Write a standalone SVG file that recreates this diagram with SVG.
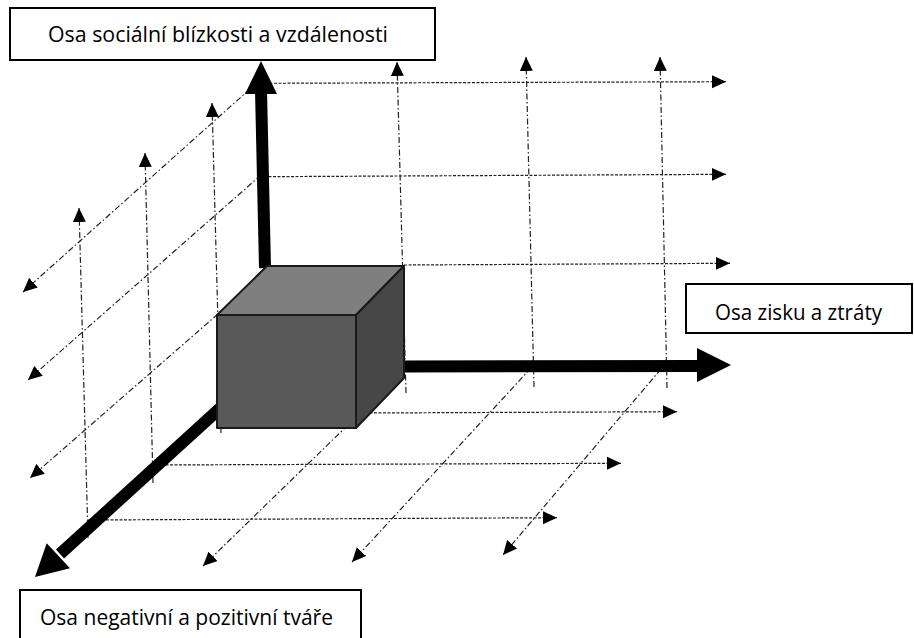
<svg xmlns="http://www.w3.org/2000/svg" width="914" height="638" viewBox="0 0 914 638">
<defs>
<style>
.dash{fill:none;stroke:#222;stroke-width:1.2;stroke-dasharray:3 1.5;marker-end:url(#ah)}
.dd{fill:none;stroke:#222;stroke-width:1.2;stroke-dasharray:6 2.5 1.5 2.5;marker-end:url(#ah)}
.ax{fill:none;stroke:#000;stroke-width:12}
.head{fill:#000}
.lbl{fill:#fff;stroke:#000;stroke-width:2}
.t{font-family:"Open Sans","Liberation Sans",sans-serif;font-size:22px;fill:#000}
.cube{stroke:#1a1a1a;stroke-width:2;stroke-linejoin:round}
</style>
<marker id="ah" markerUnits="userSpaceOnUse" markerWidth="14" markerHeight="14" refX="14" refY="7" orient="auto" viewBox="0 0 14 14">
<path d="M0,0.5 L14,7 L0,13.5 z" fill="#000"/>
</marker>
</defs>
<g id="connectors">
<!-- back wall horizontals -->
<path class="dash" d="M265,83.3 L726,81.7"/>
<path class="dash" d="M264,176.7 L726,174.3"/>
<path class="dash" d="M404,265 L730,263.3"/>
<!-- floor horizontals -->
<path class="dash" d="M365,413 L677,411.7"/>
<path class="dash" d="M152,465 L621,463.3"/>
<path class="dash" d="M88,520 L557,517.7"/>
<!-- back wall verticals -->
<path class="dd" d="M406,393 L397,62"/>
<path class="dd" d="M534,387 L526,57"/>
<path class="dd" d="M667,388 L660,57"/>
<!-- left wall verticals -->
<path class="dd" d="M221,433 L212,103"/>
<path class="dd" d="M153,483 L145,153"/>
<path class="dd" d="M88,538 L79,208"/>
<!-- left wall diagonals -->
<path class="dd" d="M250,89 L23,292"/>
<path class="dd" d="M261,175 L28,380"/>
<path class="dd" d="M218,314 L30,478"/>
<!-- floor diagonals -->
<path class="dd" d="M348,425 L203,566"/>
<path class="dd" d="M531,368 L352,562"/>
<path class="dd" d="M661,369 L503,555"/>
<!-- main axes -->
<path class="ax" d="M265,268 L261,90" stroke-width="11.5"/>
<polygon class="head" points="261,61 245,94 277,94"/>
<path class="ax" d="M400,366.5 L699,366" stroke-width="11"/>
<polygon class="head" points="697,348 731,365 697,382"/>
<path class="ax" d="M228,401 L60,554" stroke-width="11"/>
<polygon class="head" points="35,577 46.7,543.3 70,568.3"/>
</g>
<g id="cube">
<polygon class="cube" points="217,315 267,266 404,266 356,315" fill="#7f7f7f"/>
<polygon class="cube" points="356,315 404,266 404,378 356,428" fill="#474747"/>
<rect class="cube" x="217" y="315" width="139" height="113" fill="#595959"/>
</g>
<g id="label-top">
<rect class="lbl" x="10" y="8" width="425" height="52"/>
<text class="t" x="48" y="41.5" textLength="340" lengthAdjust="spacingAndGlyphs">Osa sociální blízkosti a vzdálenosti</text>
</g>
<g id="label-right">
<rect class="lbl" x="686" y="284" width="226" height="49"/>
<text class="t" x="715" y="320" textLength="167" lengthAdjust="spacingAndGlyphs">Osa zisku a ztráty</text>
</g>
<g id="label-bottom">
<rect class="lbl" x="20" y="590" width="341" height="52"/>
<text class="t" x="40" y="625" textLength="293" lengthAdjust="spacingAndGlyphs">Osa negativní a pozitivní tváře</text>
</g>
</svg>
